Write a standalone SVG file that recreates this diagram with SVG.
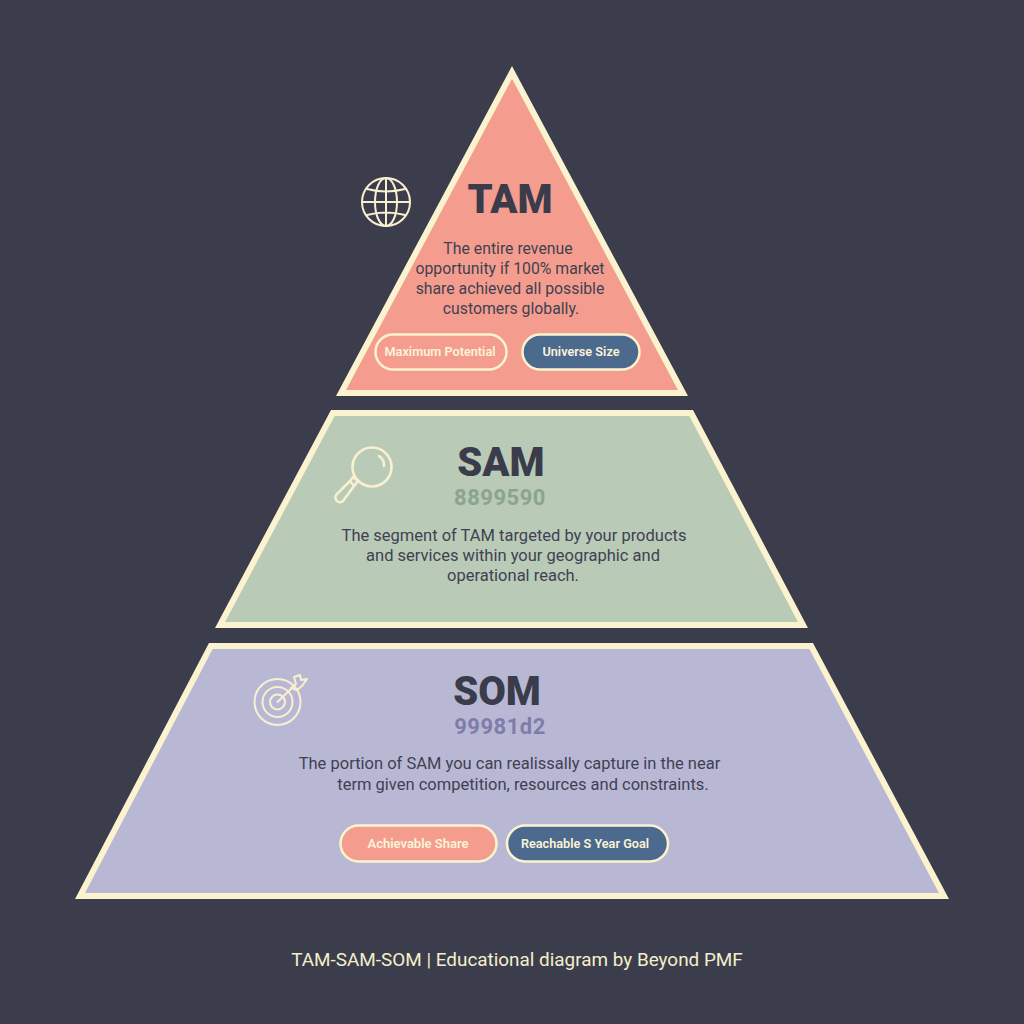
<svg xmlns="http://www.w3.org/2000/svg" width="1024" height="1024" viewBox="0 0 1024 1024">
<style>
.tier{stroke:#fbf3cf;stroke-width:6;stroke-linejoin:miter}
.title{font-family:Roboto,"Liberation Sans",sans-serif;font-weight:900;font-size:40px;fill:#3a3c4c;text-anchor:middle}
.sub{font-family:Roboto,"Liberation Sans",sans-serif;font-weight:700;font-size:22px;letter-spacing:0.500px;text-anchor:middle}
.body{font-family:Roboto,"Liberation Sans",sans-serif;font-size:16.500px;fill:#3f4152;text-anchor:middle}
.tambody{font-size:15.800px}
.pill{stroke:#fbf3cf;stroke-width:2.500}
.pilltext{font-family:Roboto,"Liberation Sans",sans-serif;font-weight:600;font-size:12.700px;fill:#fdf3d8;text-anchor:middle}
.icon{fill:none;stroke:#f9f0cf;stroke-width:2;stroke-linecap:round;stroke-linejoin:round}
.foot{font-family:Roboto,"Liberation Sans",sans-serif;font-size:18.900px;fill:#f5eecb;text-anchor:middle}
</style>
<rect width="1024" height="1024" fill="#3b3d4c"/>
<g id="som">
<polygon class="tier" points="210.800,646 811.200,646 944,896 80,896" fill="#b9b8d4"/>
<text class="title" x="497" y="705">SOM</text>
<text class="sub" x="500" y="734" fill="#7f7cab">99981d2</text>
<text class="body" x="509.500" y="769">The portion of SAM you can realissally capture in the near</text>
<text class="body" x="523" y="790">term given competition, resources and constraints.</text>
<rect class="pill" x="340.500" y="825.500" width="156" height="36" rx="18" fill="#f49d8e"/>
<text class="pilltext" x="418" y="848" style="font-size:13px">Achievable Share</text>
<rect class="pill" x="507" y="825.500" width="161" height="36" rx="18" fill="#4c6a8d"/>
<text class="pilltext" x="585" y="848">Reachable S Year Goal</text>
<g id="som-icon" class="icon">
<circle cx="277.500" cy="702" r="23"/>
<circle cx="277.500" cy="702" r="15"/>
<circle cx="277.500" cy="702" r="7.500"/>
<path d="M277.500 702L296 684M296 684L294 677L300 675L301 680L307 679L302 686L297 690L291 688Z"/>
</g>
</g>
<g id="sam">
<polygon class="tier" points="332.800,413 691.200,413 803,625 220,625" fill="#b9cab7"/>
<text class="title" x="501" y="476">SAM</text>
<text class="sub" x="500" y="505" fill="#8ba48e">8899590</text>
<text class="body" x="514" y="541">The segment of TAM targeted by your products</text>
<text class="body" x="513" y="561">and services within your geographic and</text>
<text class="body" x="513" y="581">operational reach.</text>
<g id="sam-icon" class="icon" style="stroke-width:2.600">
<circle cx="372" cy="467" r="19.500"/>
<path d="M379 456A11 11 0 0 1 384 466"/>
<path d="M358 481L353 477L350 481L354 486ZM350 481L337 494A4 4 0 0 0 343 501L354 486"/>
</g>
</g>
<g id="tam">
<polygon class="tier" points="512,72.400 683,393 341,393" fill="#f49d8f"/>
<text class="title" x="510" y="213">TAM</text>
<text class="body tambody" x="508" y="254">The entire revenue</text>
<text class="body tambody" x="510" y="274">opportunity if 100% market</text>
<text class="body tambody" x="510" y="294">share achieved all possible</text>
<text class="body tambody" x="511" y="314">customers globally.</text>
<rect class="pill" x="375.500" y="334.500" width="131" height="35" rx="17.500" fill="#f49d8f"/>
<text class="pilltext" x="440" y="356">Maximum Potential</text>
<rect class="pill" x="522.500" y="334.500" width="117" height="35" rx="17.500" fill="#4c6a8d"/>
<text class="pilltext" x="581" y="356">Universe Size</text>
</g>
<g id="tam-icon" class="icon">
<circle cx="386" cy="202" r="24"/>
<ellipse cx="386" cy="202" rx="11" ry="24"/>
<path d="M386 178V226M362 202H410M367 189Q386 194 405 189M367 215Q386 210 405 215"/>
</g>
<text id="footer" class="foot" x="517" y="966">TAM-SAM-SOM | Educational diagram by Beyond PMF</text>
</svg>
